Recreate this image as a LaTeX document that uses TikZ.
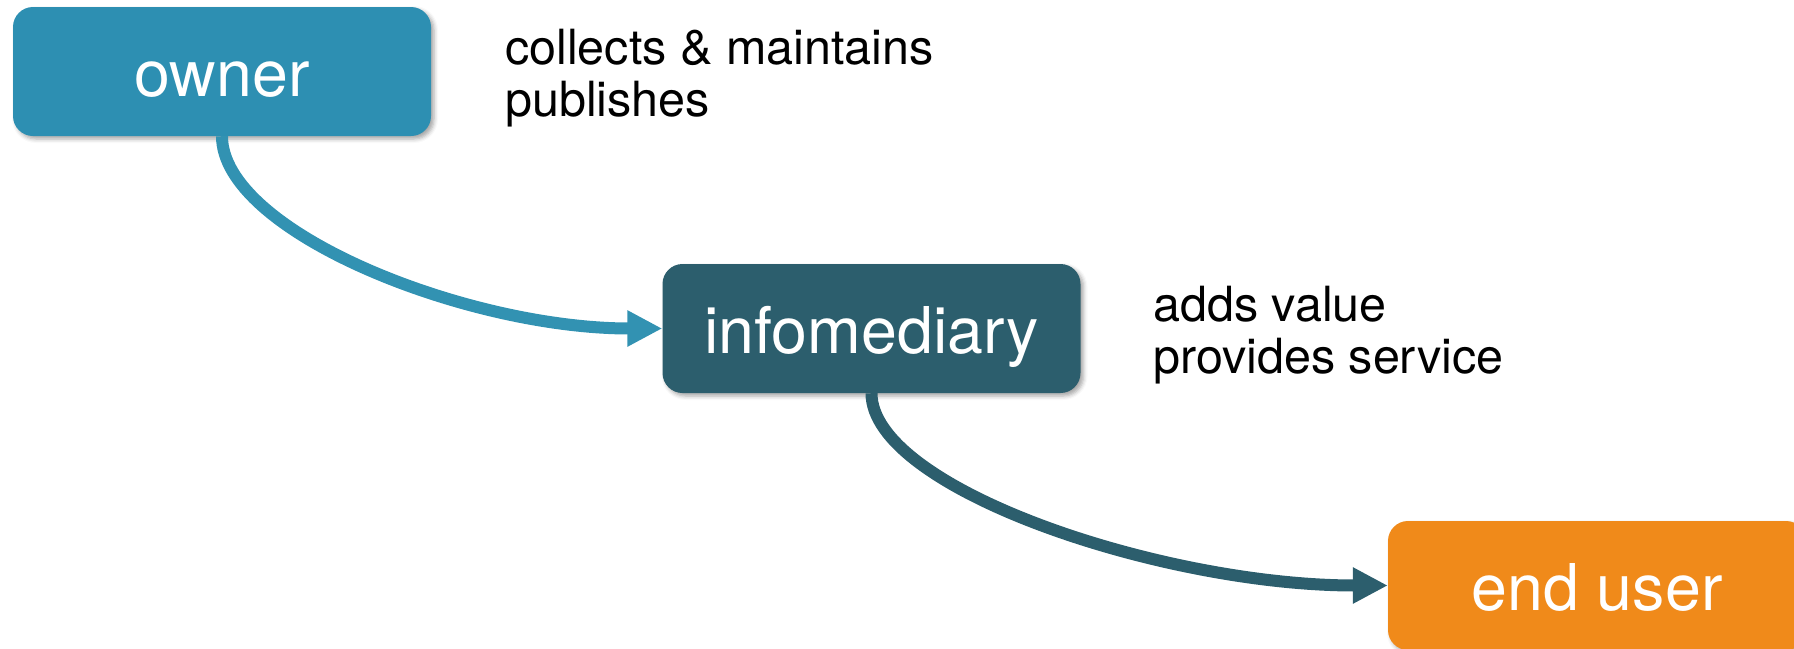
\documentclass[tikz,border=0pt]{standalone}
\usepackage{fontspec}
\setmainfont{TeX Gyre Heros}
\usetikzlibrary{arrows.meta,shadows.blur}
\definecolor{ownerblue}{RGB}{45,143,178}
\definecolor{arrowblue}{RGB}{50,146,178}
\definecolor{infoteal}{RGB}{44,94,109}
\definecolor{userorange}{RGB}{240,138,26}
\tikzset{
  box/.style={rounded corners=20pt, minimum width=418pt, minimum height=129pt, inner sep=0pt,
    text=white, font=\fontsize{64.5}{64.5}\selectfont, text height=60pt, text depth=10pt,
    blur shadow={shadow xshift=3pt, shadow yshift=-3pt, shadow blur radius=4pt, shadow opacity=35}},
  conn/.style={line width=12pt, -{Triangle[length=35pt,width=34pt]}},
  note/.style={anchor=base west, align=left, inner sep=0pt, font=\fontsize{48.5}{52}\selectfont}
}
\begin{document}
\begin{tikzpicture}[x=1pt,y=-1pt]
\useasboundingbox (0,0) rectangle (1794,648);
\node[box, fill=ownerblue] (owner) at (222,71.5) {owner};
\node[box, fill=infoteal] (info) at (871.5,328.5) {infomediary};
\node[box, fill=userorange] (user) at (1597,585.5) {end user};
\draw[conn, arrowblue] (owner.south) .. controls +(0,95) and +(-197,0) .. (info.west);
\draw[conn, infoteal] (info.south) .. controls +(0,95) and +(-227,0) .. (user.west);
% base anchor of a two-line node lies on the last line's baseline
\node[note] (ownernote) at (505,116) {collects \& maintains\\publishes};
\node[note] (infonote) at (1153,373) {adds value\\provides service};
\end{tikzpicture}
\end{document}
